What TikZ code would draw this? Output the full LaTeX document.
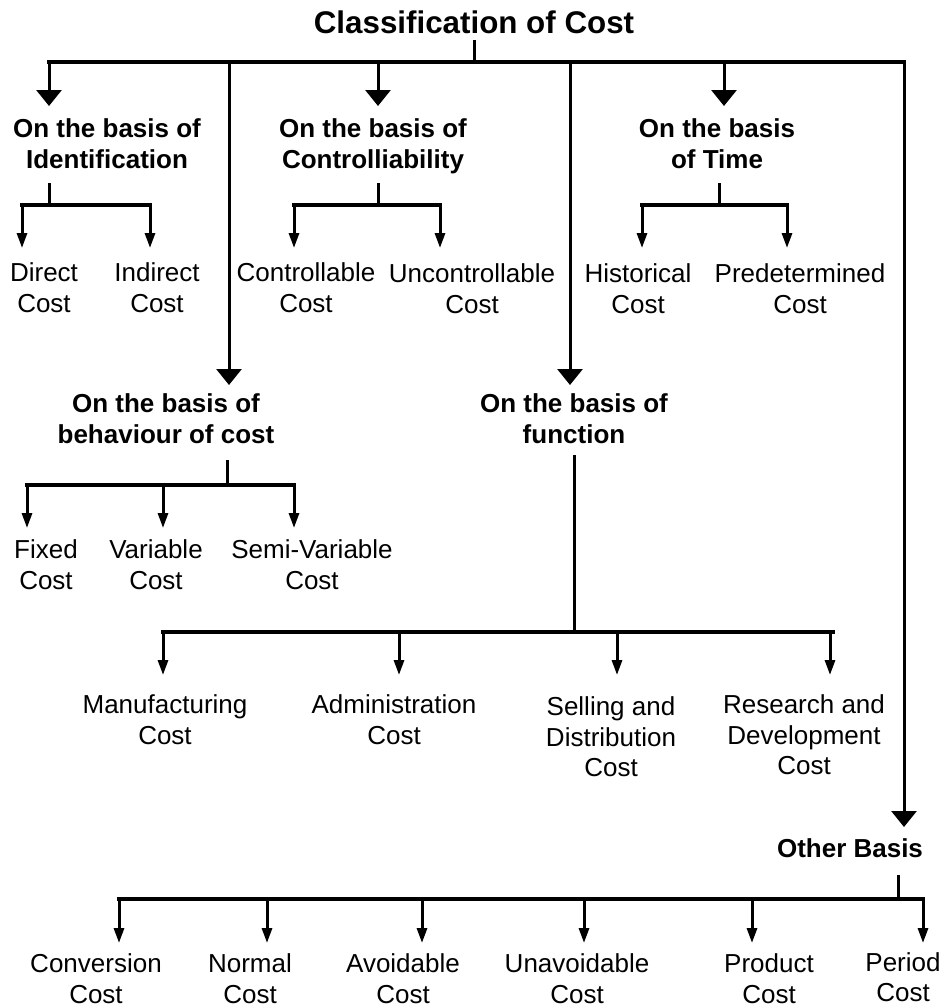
\documentclass[tikz,border=0pt]{standalone}
\usepackage{fontspec}
\setmainfont{Liberation Sans}
\usetikzlibrary{arrows.meta}
\tikzset{hd/.style={font=\bfseries\fontsize{19.5}{23.25}\selectfont, align=center, inner sep=0pt, anchor=north}}
\tikzset{lf/.style={font=\fontsize{19.5}{22.9}\selectfont, align=center, inner sep=0pt, anchor=north}}
\tikzset{ln/.style={line width=2.25pt}}
\tikzset{bus/.style={line width=3pt, line cap=rect}}
\tikzset{big/.style={line width=2.25pt, -{Triangle[width=18.75pt,length=12pt]}}}
\tikzset{sml/.style={line width=2.25pt, -{Triangle[width=7.5pt,length=11.25pt]}}}

\begin{document}
\begin{tikzpicture}[x=0.75pt,y=-0.75pt]
\useasboundingbox (0,0) rectangle (944,1007);
\node[hd, font=\bfseries\fontsize{23.5}{27}\selectfont, anchor=center, outer ysep=5pt] (cls) at (474,22) {Classification of Cost};

% headings
\node[hd] (idn) at (107,118.5) {On the basis of\\Identification};
\node[hd] (ctl) at (373,118.5) {On the basis of\\Controlliability};
\node[hd] (tim) at (717,118.5) {On the basis\\of Time};
\node[hd] (beh) at (166,393.5) {On the basis of\\behaviour of cost};
\node[hd] (fun) at (574,393.5) {On the basis of\\function};
\node[hd] (oth) at (850,838.5) {Other Basis};

% costs
\foreach \n/\x/\y/\txt in {dir/44/262.5/Direct, ind/157/262.5/Indirect, con/306/262.5/Controllable,
  unc/472/263.5/Uncontrollable, his/638/263.5/Historical, pre/800/263.5/Predetermined,
  fix/46/539.5/Fixed, var/156/539.5/Variable, sem/312/539.5/Semi-Variable,
  man/165/694.5/Manufacturing, adm/394/694.5/Administration, sel/611/696.5/Selling and\\Distribution,
  res/804/694.5/Research and\\Development, cnv/96/953.5/Conversion, nor/250/953.5/Normal,
  avo/403/953.5/Avoidable, una/577/953.5/Unavoidable, prd/769/953.5/Product, per/903/952/Period}
  {\node[lf] (\n) at (\x,\y) {\txt\\Cost};}

% main bus
\foreach \n/\x/\e in {a/49/106, b/229/385, c/378/106, d/570/385, e/724/106, f/904/827}{
  \coordinate (m\n) at (\x,62);
  \coordinate (e\n) at (\x,\e);
  \draw[big] (m\n) -- (e\n);
}
\draw[bus] (ma) -- (mf);
\draw[ln] (cls.south) -- (cls.south |- ma);

% sub branches
\foreach \g/\sx/\st/\by/\ty/\l/\r/\xs in {i/49/183/205/248/22/150/{22,150},
  c/378/183/205/248/294/440/{294,440}, h/719/183/205/248/642/787/{642,787},
  b/227/460/485/528/27/294/{27,163,294}, f/574/455/632/675/163/833/{163,399,617,830},
  o/898/875/899/943/119/923/{119,267,422,584,752,923}}{
  \coordinate (\g-s) at (\sx,\st);
  \coordinate (\g-j) at (\sx,\by);
  \coordinate (\g-l) at (\l,\by);
  \coordinate (\g-r) at (\r,\by);
  \draw[ln] (\g-s) -- (\g-j);
  \foreach \x [count=\k] in \xs {
    \coordinate (\g-\k) at (\x,\by);
    \coordinate (\g-t\k) at (\x,\ty);
    \draw[sml] (\g-\k) -- (\g-t\k);
  }
  \draw[bus] (\g-l) -- (\g-r);
}
\end{tikzpicture}
\end{document}
